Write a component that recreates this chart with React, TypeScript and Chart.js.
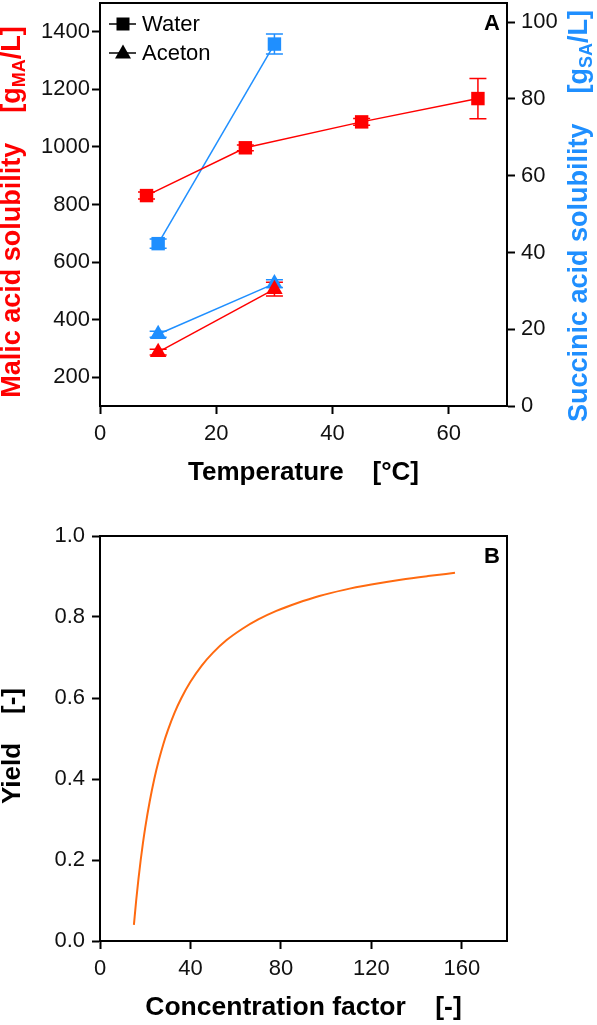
import React, { useEffect, useRef } from 'react';
import { Chart, registerables } from 'chart.js';

Chart.register(...registerables);

const FONT = 'Arial, "Liberation Sans", Helvetica, sans-serif';
const RED = '#ff0000';
const BLUE = '#1f8fff';
const ORANGE = '#ff6a10';
const INK = '#111111';

// ---------- Panel A data ----------
const waterMalicTemp = [8, 25, 45, 65];
const waterMalic = [831, 997, 1087, 1168];
const waterMalicErr = [12, 10, 12, 70];

const waterSuccinicTemp = [10, 30];
const waterSuccinic = [42.3, 94.3];
const waterSuccinicErr = [1.2, 2.6];

const acetonTemp = [10, 30];
const acetonMalic = [287, 506];
const acetonMalicErr = [10, 24];
const acetonSuccinic = [18.7, 31.9];
const acetonSuccinicErr = [0.8, 1.0];

const tempTicks = [0, 20, 40, 60];
const tempTickLabels = ['0', '20', '40', '60'];
const malicTicks = [200, 400, 600, 800, 1000, 1200, 1400];
const malicTickLabels = ['200', '400', '600', '800', '1000', '1200', '1400'];
const succinicTicks = [0, 20, 40, 60, 80, 100];
const succinicTickLabels = ['0', '20', '40', '60', '80', '100'];

const legendLabels = ['Water', 'Aceton'];

// ---------- Panel B data ----------
const concFactor = [15, 16, 17, 18, 19, 20, 22, 24, 26, 28, 30, 33, 36, 40, 45, 50, 56, 63, 70, 78, 87, 97, 108, 120, 133, 145, 157];
const yieldValues = [0.04, 0.1, 0.153, 0.2, 0.242, 0.28, 0.345, 0.4, 0.446, 0.486, 0.52, 0.564, 0.6, 0.64, 0.68, 0.712, 0.743, 0.771, 0.794, 0.815, 0.834, 0.852, 0.867, 0.88, 0.892, 0.901, 0.909];
const concTicks = [0, 40, 80, 120, 160];
const concTickLabels = ['0', '40', '80', '120', '160'];
const yieldTicks = [0, 0.2, 0.4, 0.6, 0.8, 1.0];
const yieldTickLabels = ['0.0', '0.2', '0.4', '0.6', '0.8', '1.0'];

type Part = { text: string; sub?: boolean };
type RichTitle = { x: number; y: number; rotate: boolean; color: string; size: number; parts: Part[] };

function drawRich(ctx: CanvasRenderingContext2D, t: RichTitle) {
  ctx.save();
  ctx.translate(t.x, t.y);
  if (t.rotate) ctx.rotate(-Math.PI / 2);
  const big = `bold ${t.size}px ${FONT}`;
  const small = `bold ${Math.round(t.size * 0.66)}px ${FONT}`;
  const widths = t.parts.map((p) => {
    ctx.font = p.sub ? small : big;
    return ctx.measureText(p.text).width;
  });
  const total = widths.reduce((a, b) => a + b, 0);
  let x = -total / 2;
  const base = t.size * 0.25;
  ctx.fillStyle = t.color;
  ctx.textBaseline = 'alphabetic';
  ctx.textAlign = 'left';
  t.parts.forEach((p, i) => {
    ctx.font = p.sub ? small : big;
    ctx.fillText(p.text, x, p.sub ? base + t.size * 0.2 : base);
    x += widths[i];
  });
  ctx.restore();
}

const decorPlugin = {
  id: 'decor',
  beforeDatasetsDraw(chart: any) {
    const ctx = chart.ctx;
    const bars = chart.options.plugins.decor?.errorBars || [];
    bars.forEach((b: any) => {
      const xs = chart.scales.x;
      const ys = chart.scales[b.axis];
      ctx.save();
      ctx.strokeStyle = b.color;
      ctx.lineWidth = 1.5;
      b.xs.forEach((xv: number, i: number) => {
        const px = xs.getPixelForValue(xv);
        const top = ys.getPixelForValue(b.ys[i] + b.err[i]);
        const bot = ys.getPixelForValue(b.ys[i] - b.err[i]);
        ctx.beginPath();
        ctx.moveTo(px, top);
        ctx.lineTo(px, bot);
        ctx.moveTo(px - 8.5, top);
        ctx.lineTo(px + 8.5, top);
        ctx.moveTo(px - 8.5, bot);
        ctx.lineTo(px + 8.5, bot);
        ctx.stroke();
      });
      ctx.restore();
    });
  },
  afterDraw(chart: any) {
    const ctx = chart.ctx;
    const opts = chart.options.plugins.decor || {};
    const a = chart.chartArea;
    ctx.save();
    ctx.strokeStyle = '#000';
    ctx.lineWidth = 2;
    ctx.strokeRect(a.left, a.top, a.right - a.left, a.bottom - a.top);
    ctx.restore();
    (opts.titles || []).forEach((t: RichTitle) => drawRich(ctx, t));
    if (opts.panel) {
      ctx.save();
      ctx.font = `bold 22px ${FONT}`;
      ctx.fillStyle = '#000';
      ctx.textAlign = 'right';
      ctx.textBaseline = 'alphabetic';
      ctx.fillText(opts.panel.text, opts.panel.x, opts.panel.y);
      ctx.restore();
    }
    if (opts.legend) {
      ctx.save();
      opts.legend.forEach((row: any) => {
        ctx.strokeStyle = '#000';
        ctx.fillStyle = '#000';
        ctx.lineWidth = 1.5;
        ctx.beginPath();
        ctx.moveTo(109, row.y);
        ctx.lineTo(136, row.y);
        ctx.stroke();
        ctx.beginPath();
        if (row.shape === 'rect') {
          ctx.rect(116.5, row.y - 6.5, 13, 13);
        } else {
          ctx.moveTo(123, row.y - 8.5);
          ctx.lineTo(131, row.y + 5.5);
          ctx.lineTo(115, row.y + 5.5);
          ctx.closePath();
        }
        ctx.fill();
        ctx.font = `22px ${FONT}`;
        ctx.textAlign = 'left';
        ctx.textBaseline = 'middle';
        ctx.fillText(row.text, 142, row.y + 1);
      });
      ctx.restore();
    }
  },
};

function pts(xs: number[], ys: number[]) {
  return xs.map((x, i) => ({ x, y: ys[i] }));
}

function axisCommon(extra: any) {
  return {
    type: 'linear',
    grid: { display: true, drawOnChartArea: false, drawTicks: true, tickLength: 8, tickWidth: 2, tickColor: '#000' },
    border: { display: true, color: '#000', width: 2 },
    ...extra,
  };
}

function setTicks(values: number[]) {
  return (scale: any) => {
    scale.ticks = values.map((v) => ({ value: v }));
  };
}

function fitW(w: number) {
  return (s: any) => {
    s.width = w;
    s.paddingTop = 0;
    s.paddingBottom = 0;
  };
}
function fitH(h: number) {
  return (s: any) => {
    s.height = h;
    s.paddingLeft = 0;
    s.paddingRight = 0;
  };
}

const tickFont = { size: 22, family: FONT };

function ChartA() {
  const ref = useRef<HTMLCanvasElement>(null);
  useEffect(() => {
    const ds = (label: string, xs: number[], ys: number[], color: string, shape: string, axis: string) => ({
      label,
      data: pts(xs, ys),
      yAxisID: axis,
      borderColor: color,
      backgroundColor: color,
      borderWidth: 1.5,
      pointStyle: shape,
      pointRadius: 9.5,
      pointBorderWidth: 0,
      tension: 0,
    });
    const chart = new Chart(ref.current!, {
      type: 'line',
      data: {
        datasets: [
          ds('Water malic', waterMalicTemp, waterMalic, RED, 'rect', 'y'),
          ds('Water succinic', waterSuccinicTemp, waterSuccinic, BLUE, 'rect', 'y2'),
          ds('Aceton malic', acetonTemp, acetonMalic, RED, 'triangle', 'y'),
          ds('Aceton succinic', acetonTemp, acetonSuccinic, BLUE, 'triangle', 'y2'),
        ],
      },
      options: {
        animation: false,
        responsive: false,
        devicePixelRatio: 1,
        layout: { autoPadding: false, padding: { top: 3, left: 0, right: 0, bottom: 0 } },
        scales: {
          x: axisCommon({
            position: 'bottom',
            min: 0,
            max: 70,
            afterBuildTicks: setTicks(tempTicks),
            afterFit: fitH(94),
            ticks: { font: tickFont, color: INK, padding: 7, maxRotation: 0, callback: (_v: any, i: number) => tempTickLabels[i] },
          }),
          y: axisCommon({
            position: 'left',
            min: 100,
            max: 1500,
            afterBuildTicks: setTicks(malicTicks),
            afterFit: fitW(100),
            ticks: { font: tickFont, color: INK, padding: 2, callback: (_v: any, i: number) => malicTickLabels[i] },
          }),
          y2: axisCommon({
            position: 'right',
            min: 0,
            max: 105,
            afterBuildTicks: setTicks(succinicTicks),
            afterFit: fitW(90),
            ticks: { font: tickFont, color: INK, padding: 6, callback: (_v: any, i: number) => succinicTickLabels[i] },
          }),
        },
        plugins: {
          legend: { display: false },
          tooltip: { enabled: false },
          decor: {
            errorBars: [
              { xs: waterMalicTemp, ys: waterMalic, err: waterMalicErr, axis: 'y', color: RED },
              { xs: waterSuccinicTemp, ys: waterSuccinic, err: waterSuccinicErr, axis: 'y2', color: BLUE },
              { xs: acetonTemp, ys: acetonMalic, err: acetonMalicErr, axis: 'y', color: RED },
              { xs: acetonTemp, ys: acetonSuccinic, err: acetonSuccinicErr, axis: 'y2', color: BLUE },
            ],
            titles: [
              { x: 13, y: 212, rotate: true, color: RED, size: 27, parts: [{ text: 'Malic acid solubility    [g' }, { text: 'MA', sub: true }, { text: '/L]' }] },
              { x: 580, y: 216, rotate: true, color: BLUE, size: 27, parts: [{ text: 'Succinic acid solubility    [g' }, { text: 'SA', sub: true }, { text: '/L]' }] },
              { x: 303.5, y: 473, rotate: false, color: '#000', size: 26, parts: [{ text: 'Temperature    [°C]' }] },
            ],
            panel: { text: 'A', x: 500, y: 30 },
            legend: [
              { text: legendLabels[0], y: 24, shape: 'rect' },
              { text: legendLabels[1], y: 53, shape: 'triangle' },
            ],
          },
        } as any,
      },
      plugins: [decorPlugin],
    } as any);
    return () => chart.destroy();
  }, []);
  return <canvas ref={ref} width={597} height={500} style={{ display: 'block', width: 597, height: 500 }} />;
}

function ChartB() {
  const ref = useRef<HTMLCanvasElement>(null);
  useEffect(() => {
    const chart = new Chart(ref.current!, {
      type: 'line',
      data: {
        datasets: [
          {
            label: 'Yield',
            data: pts(concFactor, yieldValues),
            borderColor: ORANGE,
            backgroundColor: ORANGE,
            borderWidth: 2,
            pointRadius: 0,
            cubicInterpolationMode: 'monotone',
          },
        ],
      },
      options: {
        animation: false,
        responsive: false,
        devicePixelRatio: 1,
        layout: { autoPadding: false, padding: { top: 36, left: 0, right: 90, bottom: 0 } },
        scales: {
          x: axisCommon({
            position: 'bottom',
            min: 0,
            max: 180,
            afterBuildTicks: setTicks(concTicks),
            afterFit: fitH(84),
            ticks: { font: tickFont, color: INK, padding: 7, maxRotation: 0, callback: (_v: any, i: number) => concTickLabels[i] },
          }),
          y: axisCommon({
            position: 'left',
            min: 0,
            max: 1,
            afterBuildTicks: setTicks(yieldTicks),
            afterFit: fitW(100),
            ticks: {
              font: tickFont,
              color: INK,
              padding: 7,
              callback: (_v: any, i: number) => yieldTickLabels[i],
            },
          }),
        },
        plugins: {
          legend: { display: false },
          tooltip: { enabled: false },
          decor: {
            titles: [
              { x: 13, y: 246, rotate: true, color: '#000', size: 26, parts: [{ text: 'Yield    [-]' }] },
              { x: 303.5, y: 508, rotate: false, color: '#000', size: 26.5, parts: [{ text: 'Concentration factor    [-]' }] },
            ],
            panel: { text: 'B', x: 500, y: 63 },
          },
        } as any,
      },
      plugins: [decorPlugin],
    } as any);
    return () => chart.destroy();
  }, []);
  return <canvas ref={ref} width={597} height={525} style={{ display: 'block', width: 597, height: 525 }} />;
}

export default function App() {
  return (
    <div style={{ position: 'absolute', left: 0, top: 0, width: 597, height: 1025, background: '#fff' }}>
      <ChartA />
      <ChartB />
    </div>
  );
}
